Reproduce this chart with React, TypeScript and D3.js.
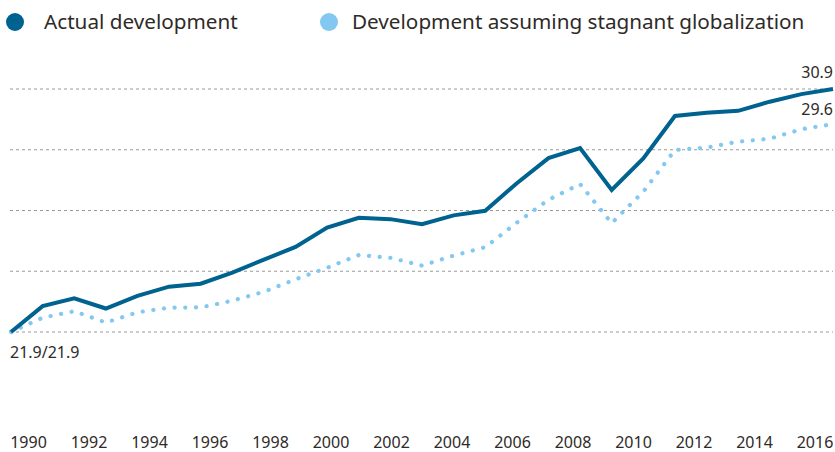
import React from "react";
import * as d3 from "d3";

const years = d3.range(1990, 2017);
const actual = [21.9, 22.86, 23.15, 22.77, 23.24, 23.58, 23.69, 24.1, 24.58, 25.05, 25.77, 26.13, 26.08, 25.89, 26.22, 26.39, 27.41, 28.34, 28.71, 27.16, 28.33, 29.9, 30.02, 30.09, 30.43, 30.71, 30.9];
const stagnant = [21.9, 22.43, 22.67, 22.25, 22.63, 22.8, 22.81, 23.06, 23.39, 23.85, 24.28, 24.75, 24.65, 24.36, 24.73, 25.04, 25.95, 26.8, 27.38, 25.93, 27.1, 28.64, 28.73, 28.95, 29.06, 29.41, 29.6];
const tickLabels = ["1990", "1992", "1994", "1996", "1998", "2000", "2002", "2004", "2006", "2008", "2010", "2012", "2014", "2016"];
const gridValues = [21.9, 24.15, 26.4, 28.65, 30.9];
const seriesNames = ["Actual development", "Development assuming stagnant globalization"];

const W = 835;
const H = 452;
const DARK = "#00628f";
const LIGHT = "#82c8f0";
const TEXT = "#2e2a28";
const FONT = "'Noto Sans', 'Open Sans', sans-serif";

export default function App() {
  const x = d3.scaleLinear().domain([1990, 2016]).range([11, 833]);
  const y = d3.scaleLinear().domain([21.9, 30.9]).range([332, 89]);
  const xl = d3.scalePoint<string>().domain(tickLabels).range([28.5, 815]);
  const line = d3
    .line<number>()
    .x((_, i) => x(years[i]))
    .y((d) => y(d));

  return (
    <svg
      width={W}
      height={H}
      style={{ position: "absolute", left: 0, top: 0, background: "#fff" }}
      fontFamily={FONT}
    >
      {/* legend */}
      <circle cx={15} cy={22} r={9} fill={DARK} />
      <text x={44} y={29} fontSize={20.7} fill={TEXT}>{seriesNames[0]}</text>
      <circle cx={329} cy={22} r={9} fill={LIGHT} />
      <text x={352} y={29} fontSize={20.7} fill={TEXT}>{seriesNames[1]}</text>

      {/* grid */}
      {gridValues.map((g) => (
        <line
          key={g}
          x1={10}
          x2={833}
          y1={y(g)}
          y2={y(g)}
          stroke="#9a9a9a"
          strokeWidth={1}
          strokeDasharray="3 3"
        />
      ))}

      {/* lines */}
      <path
        d={line(stagnant) || ""}
        fill="none"
        stroke={LIGHT}
        strokeWidth={4.2}
        strokeLinecap="round"
        strokeDasharray="0.1 10.6"
      />
      <path
        d={line(actual) || ""}
        fill="none"
        stroke={DARK}
        strokeWidth={4}
        strokeLinejoin="miter"
      />

      {/* value labels */}
      <text x={833} y={78} fontSize={16} fill={TEXT} textAnchor="end">
        {actual[actual.length - 1].toFixed(1)}
      </text>
      <text x={833} y={115} fontSize={16} fill={TEXT} textAnchor="end">
        {stagnant[stagnant.length - 1].toFixed(1)}
      </text>
      <text x={10} y={358} fontSize={16} fill={TEXT}>
        {actual[0].toFixed(1)}/{stagnant[0].toFixed(1)}
      </text>

      {/* x axis labels */}
      {tickLabels.map((t) => (
        <text key={t} x={xl(t)} y={448} fontSize={16} fill={TEXT} textAnchor="middle">
          {t}
        </text>
      ))}
    </svg>
  );
}
